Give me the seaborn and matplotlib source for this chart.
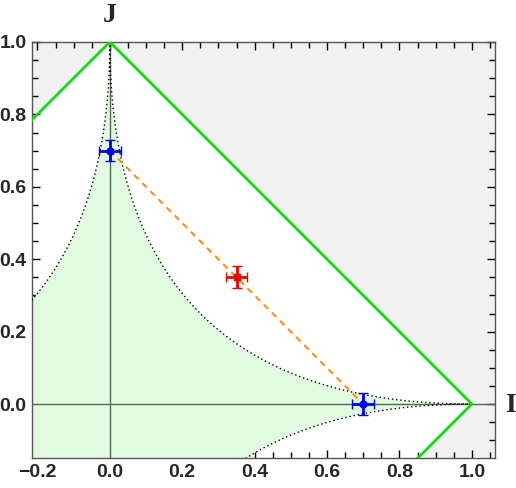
import numpy as np
import matplotlib
matplotlib.use('Agg')
import matplotlib.pyplot as plt
import seaborn as sns
import pandas as pd
from matplotlib.ticker import MultipleLocator, FormatStrFormatter

sns.set_style('ticks')
plt.rcParams['font.family'] = ['Liberation Sans', 'DejaVu Sans']

# Measured points (I, J) with uncertainties
pt_i = [0.0, 0.35, 0.70]
pt_j = [0.70, 0.35, 0.0]
pt_ierr = [0.03, 0.03, 0.03]
pt_jerr = [0.03, 0.03, 0.03]
pt_kind = ['end', 'mid', 'end']

# Orange dashed segment between the two end points
seg_i = [0.0, 0.70]
seg_j = [0.70, 0.0]

# Green boundary |I| + |J| = 1
bound_i = [-0.3, 0.0, 1.0, 0.8]
bound_j = [0.7, 1.0, 0.0, -0.2]

fig = plt.figure(figsize=(5.16, 4.88), dpi=100)
ax = fig.add_axes([32 / 516, 1 - 458 / 488, 463 / 516, 416 / 488])

# gray region |I| + |J| > 1
xs = np.linspace(-0.3, 1.2, 601)
lim = 1 - np.abs(xs)
ax.fill_between(xs, lim, 1.5, color='#f1f1f1', lw=0, zorder=0)
ax.fill_between(xs, -1.5, -lim, color='#f1f1f1', lw=0, zorder=0)

# green region sqrt|I| + sqrt|J| <= 1
xg = np.linspace(-0.3, 1.0, 1301)
yg = (1 - np.sqrt(np.abs(xg))) ** 2
ax.fill_between(xg, -yg, yg, color='#e0fbe0', lw=0, zorder=1)
ax.plot(xg, yg, color='black', lw=1, ls=(0, (1, 2)), zorder=3)
ax.plot(xg, -yg, color='black', lw=1, ls=(0, (1, 2)), zorder=3)

# coordinate axes
ax.axhline(0, color='#556655', lw=1, zorder=2)
ax.axvline(0, color='#556655', lw=1, zorder=2)

sns.lineplot(x=bound_i, y=bound_j, sort=False, color='#11dd11', lw=2,
             ax=ax, zorder=4)
sns.lineplot(x=seg_i, y=seg_j, sort=False, color='#ff8c1a', lw=1.5,
             dashes=False, ax=ax, zorder=5)
ax.lines[-1].set_linestyle((0, (3, 2.5)))

colors = {'end': '#0000ee', 'mid': '#ee0000'}
markers = {'end': 'o', 'mid': 's'}
for i, j, ie, je, k in zip(pt_i, pt_j, pt_ierr, pt_jerr, pt_kind):
    ax.errorbar(i, j, xerr=ie, yerr=je, fmt=markers[k], color=colors[k],
                mec=colors[k], mfc=colors[k], ms=5, mew=1, elinewidth=2,
                capsize=3.5, capthick=2, zorder=6)

ax.set_xlim(-0.215, 1.064)
ax.set_ylim(-0.149, 1.0)
ax.set_xlabel('')
ax.set_ylabel('')

ax.xaxis.set_major_locator(MultipleLocator(0.2))
ax.xaxis.set_minor_locator(MultipleLocator(0.05))
ax.yaxis.set_major_locator(MultipleLocator(0.2))
ax.yaxis.set_minor_locator(MultipleLocator(0.05))
ax.xaxis.set_major_formatter(FormatStrFormatter('%.1f'))
ax.yaxis.set_major_formatter(FormatStrFormatter('%.1f'))
ax.tick_params(which='both', direction='in', top=True, right=True,
               color='black', width=1)
ax.tick_params(which='major', length=6, labelsize=14, pad=4)
ax.tick_params(which='minor', length=4)
ax.set_xticklabels([t.get_text().replace('-', '\u2212') for t in ax.get_xticklabels()])
for lab in ax.get_xticklabels() + ax.get_yticklabels():
    lab.set_fontweight('bold')
for s in ax.spines.values():
    s.set_color('#555555')
    s.set_linewidth(1)

fig.text(110 / 516, 1 - 16 / 488, 'J', ha='center', va='center',
         fontsize=20, fontweight='bold', family='Liberation Serif')
fig.text(510 / 516, 1 - 405 / 488, 'I', ha='center', va='center',
         fontsize=20, fontweight='bold', family='Liberation Serif')

fig.savefig('out.png', dpi=100)
